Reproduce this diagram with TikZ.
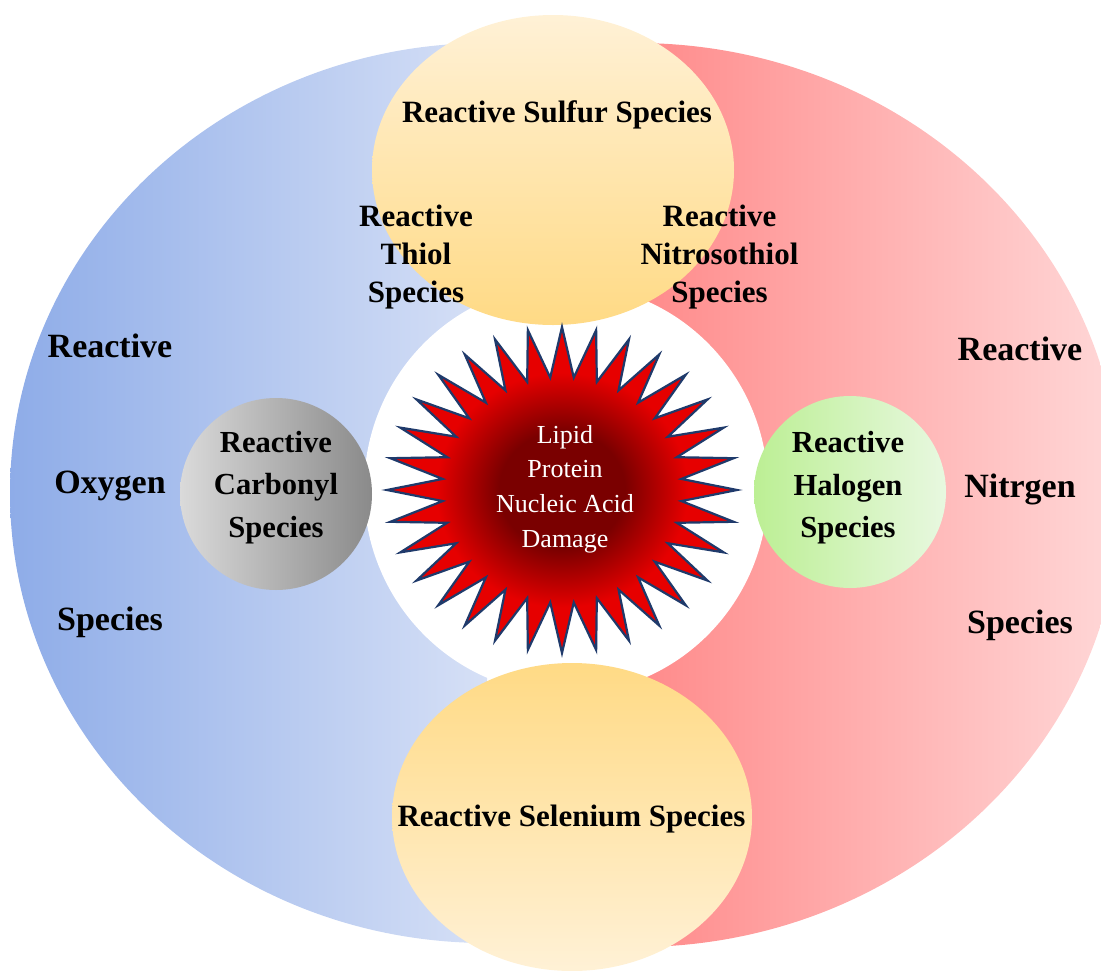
\documentclass[tikz,border=0pt]{standalone}
\usepackage{fontspec}
\setmainfont{Liberation Serif}
\usetikzlibrary{shapes.geometric}
\definecolor{blueL}{HTML}{8EACE8}
\definecolor{blueR}{HTML}{D6E0F6}
\definecolor{redL}{HTML}{FF8A8A}
\definecolor{redR}{HTML}{FFD8D8}
\definecolor{yelLight}{HTML}{FFF1D6}
\definecolor{yelDark}{HTML}{FFDA85}
\definecolor{greyL}{HTML}{DADADA}
\definecolor{greyR}{HTML}{8A8A8A}
\definecolor{greenL}{HTML}{BCEF94}
\definecolor{greenR}{HTML}{E8F8E0}
\definecolor{starEdge}{HTML}{1F3A6B}
\definecolor{starIn}{HTML}{7A0000}
\definecolor{starOut}{HTML}{E60000}
\pgfdeclareradialshading{starshade}{\pgfpoint{0bp}{0bp}}{color(0bp)=(starIn); color(9bp)=(starIn); color(18bp)=(starOut); color(50bp)=(starOut)}
\tikzset{
  lbl/.style={inner sep=0pt, align=center, text=black, font=\bfseries\fontsize{31}{38}\selectfont},
  sidelbl/.style={inner sep=0pt, align=center, text=black, font=\bfseries\fontsize{34}{136.5}\selectfont},
  circlbl/.style={inner sep=0pt, align=center, text=black, font=\bfseries\fontsize{30.6}{42.5}\selectfont},
  starlbl/.style={inner sep=0pt, align=center, text=white, font=\fontsize{26}{34.7}\selectfont},
  blob/.style={ellipse, inner sep=0pt, draw=none},
}
\begin{document}
\begin{tikzpicture}[x=1pt,y=-1pt]
\useasboundingbox (0,0) rectangle (1101,970);
\begin{scope}
\clip (0,0) rectangle (1101,970);
% big half ellipses
\shade[left color=blueL, right color=blueR]
  (487,943) arc[start angle=90, end angle=270, x radius=477, y radius=450] -- cycle;
\shade[left color=redL, right color=redR]
  (636,43) arc[start angle=270, end angle=450, x radius=485, y radius=452] -- cycle;
% white centre
\node[blob, fill=white, minimum width=404pt, minimum height=410pt] (centre) at (566,489) {};
% side circles
\node[blob, circle, minimum size=192pt, left color=greyL, right color=greyR] (carb) at (276,494) {};
\node[blob, circle, minimum size=192pt, left color=greenL, right color=greenR] (halo) at (850,492) {};
% yellow ellipses
\node[blob, minimum width=362pt, minimum height=310pt, top color=yelLight, bottom color=yelDark] (sulf) at (553,170) {};
\node[blob, minimum width=360pt, minimum height=308pt, top color=yelDark, bottom color=yelLight] (sele) at (572,817) {};
% star
\begin{scope}[shift={(562,490)}]
\shadedraw[shading=starshade, draw=starEdge, line width=2.2pt, line join=miter, miter limit=20]
  (90:175 and 163)
  \foreach \i in {0,...,31} { -- ({90+\i*11.25}:175 and 163) -- ({90+\i*11.25+5.625}:120 and 113) } -- cycle;
\coordinate (starc) at (0,0);
\end{scope}
\end{scope}
% labels
\node[lbl, anchor=base] (tSulf) at (557,122) {Reactive Sulfur Species};
\node[lbl, anchor=base] (tSele) at (571.5,826) {Reactive Selenium Species};
\node[lbl] (tThiol) at (416,257) {Reactive\\Thiol\\Species};
\node[lbl] (tNitroso) at (719.5,257) {Reactive\\Nitrosothiol\\Species};
\node[sidelbl] (tOxy) at (110,485.5) {Reactive\\Oxygen\\Species};
\node[sidelbl] (tNit) at (1020,489) {Reactive\\Nitrgen\\Species};
\node[circlbl] (tCarb) at (276,487.3) {Reactive\\Carbonyl\\Species};
\node[circlbl] (tHalo) at (848,488) {Reactive\\Halogen\\Species};
\node[starlbl] (tDam) at (565,489) {Lipid\\Protein\\Nucleic Acid\\Damage};
\end{tikzpicture}
\end{document}
